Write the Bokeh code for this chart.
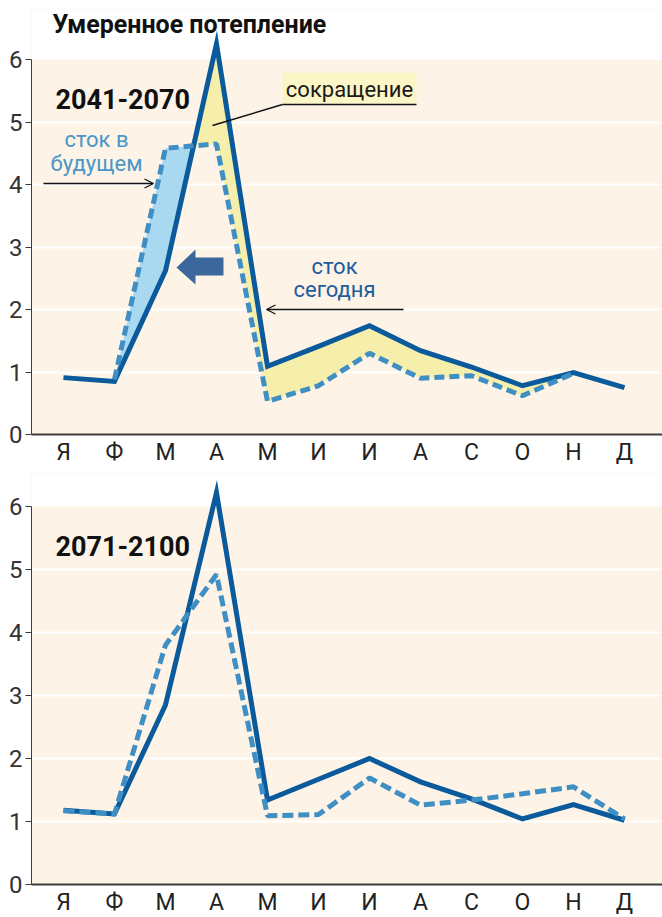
import numpy as np
from bokeh.plotting import figure
from bokeh.models import FixedTicker, Label, Arrow, OpenHead, Range1d
from bokeh.layouts import column
from bokeh.embed import file_html
from bokeh.resources import INLINE

# ---------------- data ----------------
months = ["Я", "Ф", "М", "А", "М", "И", "И", "А", "С", "О", "Н", "Д"]
y_ticks = [0, 1, 2, 3, 4, 5, 6]

# 2041-2070
today_2041 = [0.91, 0.85, 2.62, 6.25, 1.09, 1.41, 1.74, 1.34, 1.08, 0.78, 0.99, 0.75]
future_2041 = [None, 0.88, 4.58, 4.65, 0.53, 0.78, 1.30, 0.90, 0.94, 0.62, 0.98, None]

# 2071-2100
today_2071 = [1.18, 1.12, 2.85, 6.22, 1.34, 1.67, 2.00, 1.63, 1.36, 1.04, 1.27, 1.02]
future_2071 = [1.17, 1.12, 3.80, 4.92, 1.09, 1.11, 1.69, 1.26, 1.34, 1.44, 1.55, 1.04]

# ---------------- style ----------------
FONT = "Roboto"
BEIGE = "#fdf3e7"
SOLID = "#0a5a9c"
DASHED = "#3f8fc4"
BLUE_FILL = "#a9d9f0"
YELLOW_FILL = "#f6eeab"
BOX = "#fcf6c6"
ARROW_BLUE = "#3b679c"
AXIS = "#3c3c3c"

X0, X1 = -0.627, 11.745
PX_X = 51.0  # pixels per month
TXT_SHIFT = 9  # baseline correction (px)


def make_fig(frame_h, y_end, top_border):
    p = figure(frame_width=631, frame_height=frame_h,
               x_range=Range1d(X0, X1), y_range=Range1d(0, y_end),
               output_backend="svg", toolbar_location=None,
               min_border_left=31, min_border_right=0,
               min_border_top=top_border, min_border_bottom=10,
               background_fill_color=BEIGE, border_fill_color="white",
               outline_line_color=None)
    # white band above 6
    p.quad(left=[X0], right=[X1], bottom=[6], top=[y_end],
           fill_color="white", line_color=None)
    p.xgrid.visible = False
    p.ygrid.ticker = FixedTicker(ticks=[1, 2, 3, 4, 5])
    p.ygrid.grid_line_color = "white"
    p.ygrid.grid_line_width = 2

    p.yaxis.ticker = FixedTicker(ticks=y_ticks)
    p.yaxis.bounds = (0, 6)
    p.yaxis.major_tick_out = 6
    p.yaxis.major_tick_in = 0
    p.yaxis.minor_tick_out = 0
    p.yaxis.minor_tick_in = 0
    p.yaxis.axis_line_color = AXIS
    p.yaxis.major_tick_line_color = AXIS
    p.yaxis.major_label_standoff = 3
    p.yaxis.major_label_text_font = FONT
    p.yaxis.major_label_text_font_size = "24px"
    p.yaxis.major_label_text_color = "#333333"

    p.xaxis.ticker = FixedTicker(ticks=list(range(12)))
    p.xaxis.major_label_overrides = {i: m for i, m in enumerate(months)}
    p.xaxis.major_tick_out = 0
    p.xaxis.major_tick_in = 0
    p.xaxis.minor_tick_out = 0
    p.xaxis.minor_tick_in = 0
    p.xaxis.axis_line_color = AXIS
    p.xaxis.axis_line_width = 2
    p.xaxis.major_label_standoff = 4
    p.xaxis.major_label_text_font = FONT
    p.xaxis.major_label_text_font_size = "23px"
    p.xaxis.major_label_text_color = "#222222"
    return p


def fill_parts(x, a, b):
    xs, ya, yb = [], [], []
    pts = [(xi, ai, bi) for xi, ai, bi in zip(x, a, b) if bi is not None]
    for k, (xi, ai, bi) in enumerate(pts):
        if k > 0:
            x0, a0, b0 = pts[k - 1]
            d0, d1 = b0 - a0, bi - ai
            if d0 * d1 < 0:
                t = d0 / (d0 - d1)
                v = a0 + t * (ai - a0)
                xs.append(x0 + t * (xi - x0)); ya.append(v); yb.append(v)
        xs.append(xi); ya.append(ai); yb.append(bi)
    ya = np.array(ya); yb = np.array(yb)
    return np.array(xs), ya, np.maximum(ya, yb), np.minimum(ya, yb)


x = list(range(12))

# ---------------- top chart ----------------
TOP_SCALE = 62.5
top_h = 426
p1 = make_fig(top_h, top_h / TOP_SCALE, 8)


def tx(px):
    return (px - 63) / PX_X


def ty1(py):
    return (434 - py) / TOP_SCALE


def tb1(py):  # text baseline
    return ty1(py - TXT_SHIFT)


xs, ya, hi, lo = fill_parts(x, today_2041, future_2041)
p1.varea(x=xs, y1=ya, y2=hi, fill_color=BLUE_FILL)
p1.varea(x=xs, y1=lo, y2=ya, fill_color=YELLOW_FILL)

p1.line(x, today_2041, line_color=SOLID, line_width=5, line_join="miter")
fx = [xi for xi, v in zip(x, future_2041) if v is not None]
fy = [v for v in future_2041 if v is not None]
p1.line(fx, fy, line_color=DASHED, line_width=5, line_dash="10 5")

# block arrow (annotation shape)
tipx, tipy = 176, 267
offs = [(0, 0), (19, -18), (19, -10), (47, -10), (47, 8), (19, 8), (19, 17)]
p1.patch([tx(tipx + dx) for dx, dy in offs], [ty1(tipy + dy) for dx, dy in offs],
         fill_color=ARROW_BLUE, line_color=None)

# "сокращение" box
p1.quad(left=[tx(282)], right=[tx(416)], bottom=[ty1(103)], top=[ty1(72)],
        fill_color=BOX, line_color=None)
p1.segment(x0=[tx(282), tx(282)], y0=[ty1(104), ty1(104)],
           x1=[tx(416), tx(212)], y1=[ty1(104), ty1(125)],
           line_color="#111111", line_width=1.5)
p1.add_layout(Label(x=tx(349), y=tb1(98), text="сокращение", text_font=FONT,
                    text_font_size="22px", text_color="#1a1a1a",
                    text_align="center", text_baseline="alphabetic"))

# title and period
p1.add_layout(Label(x=tx(52), y=tb1(33), text="Умеренное потепление", text_font=FONT,
                    text_font_size="25px", text_font_style="bold", text_color="#111111",
                    text_baseline="alphabetic"))
p1.add_layout(Label(x=tx(55), y=tb1(107), text="2041-2070", text_font=FONT,
                    text_font_size="27px", text_font_style="bold", text_color="#111111",
                    text_baseline="alphabetic"))

# future runoff label
for txt, base in (("сток в", 148), ("будущем", 172)):
    p1.add_layout(Label(x=tx(96), y=tb1(base), text=txt, text_font=FONT,
                        text_font_size="22px", text_color="#4a96c6",
                        text_align="center", text_baseline="alphabetic"))
p1.add_layout(Arrow(end=OpenHead(size=9, line_width=1.3, line_color="#111111"),
                    x_start=tx(43), y_start=ty1(183), x_end=tx(153), y_end=ty1(183),
                    line_width=1.3, line_color="#111111"))

# today runoff label
for txt, base in (("сток", 275), ("сегодня", 298)):
    p1.add_layout(Label(x=tx(334), y=tb1(base), text=txt, text_font=FONT,
                        text_font_size="22px", text_color="#1f5c9c",
                        text_align="center", text_baseline="alphabetic"))
p1.add_layout(Arrow(end=OpenHead(size=9, line_width=1.3, line_color="#111111"),
                    x_start=tx(403), y_start=ty1(309), x_end=tx(266), y_end=ty1(309),
                    line_width=1.3, line_color="#111111"))

# ---------------- bottom chart ----------------
BOT_SCALE = 63.0
bot_h = 412
p2 = make_fig(bot_h, bot_h / BOT_SCALE, 4)


def ty2(py):
    return (882 - py) / BOT_SCALE


p2.line(x, today_2071, line_color=SOLID, line_width=5, line_join="miter")
p2.line(x, future_2071, line_color=DASHED, line_width=5, line_dash="11 5")
p2.add_layout(Label(x=tx(55), y=ty2(552 - TXT_SHIFT), text="2071-2100", text_font=FONT,
                    text_font_size="27px", text_font_style="bold", text_color="#111111",
                    text_baseline="alphabetic"))

layout = column(p1, p2, spacing=0)
open("out.html", "w").write(file_html(layout, INLINE))
